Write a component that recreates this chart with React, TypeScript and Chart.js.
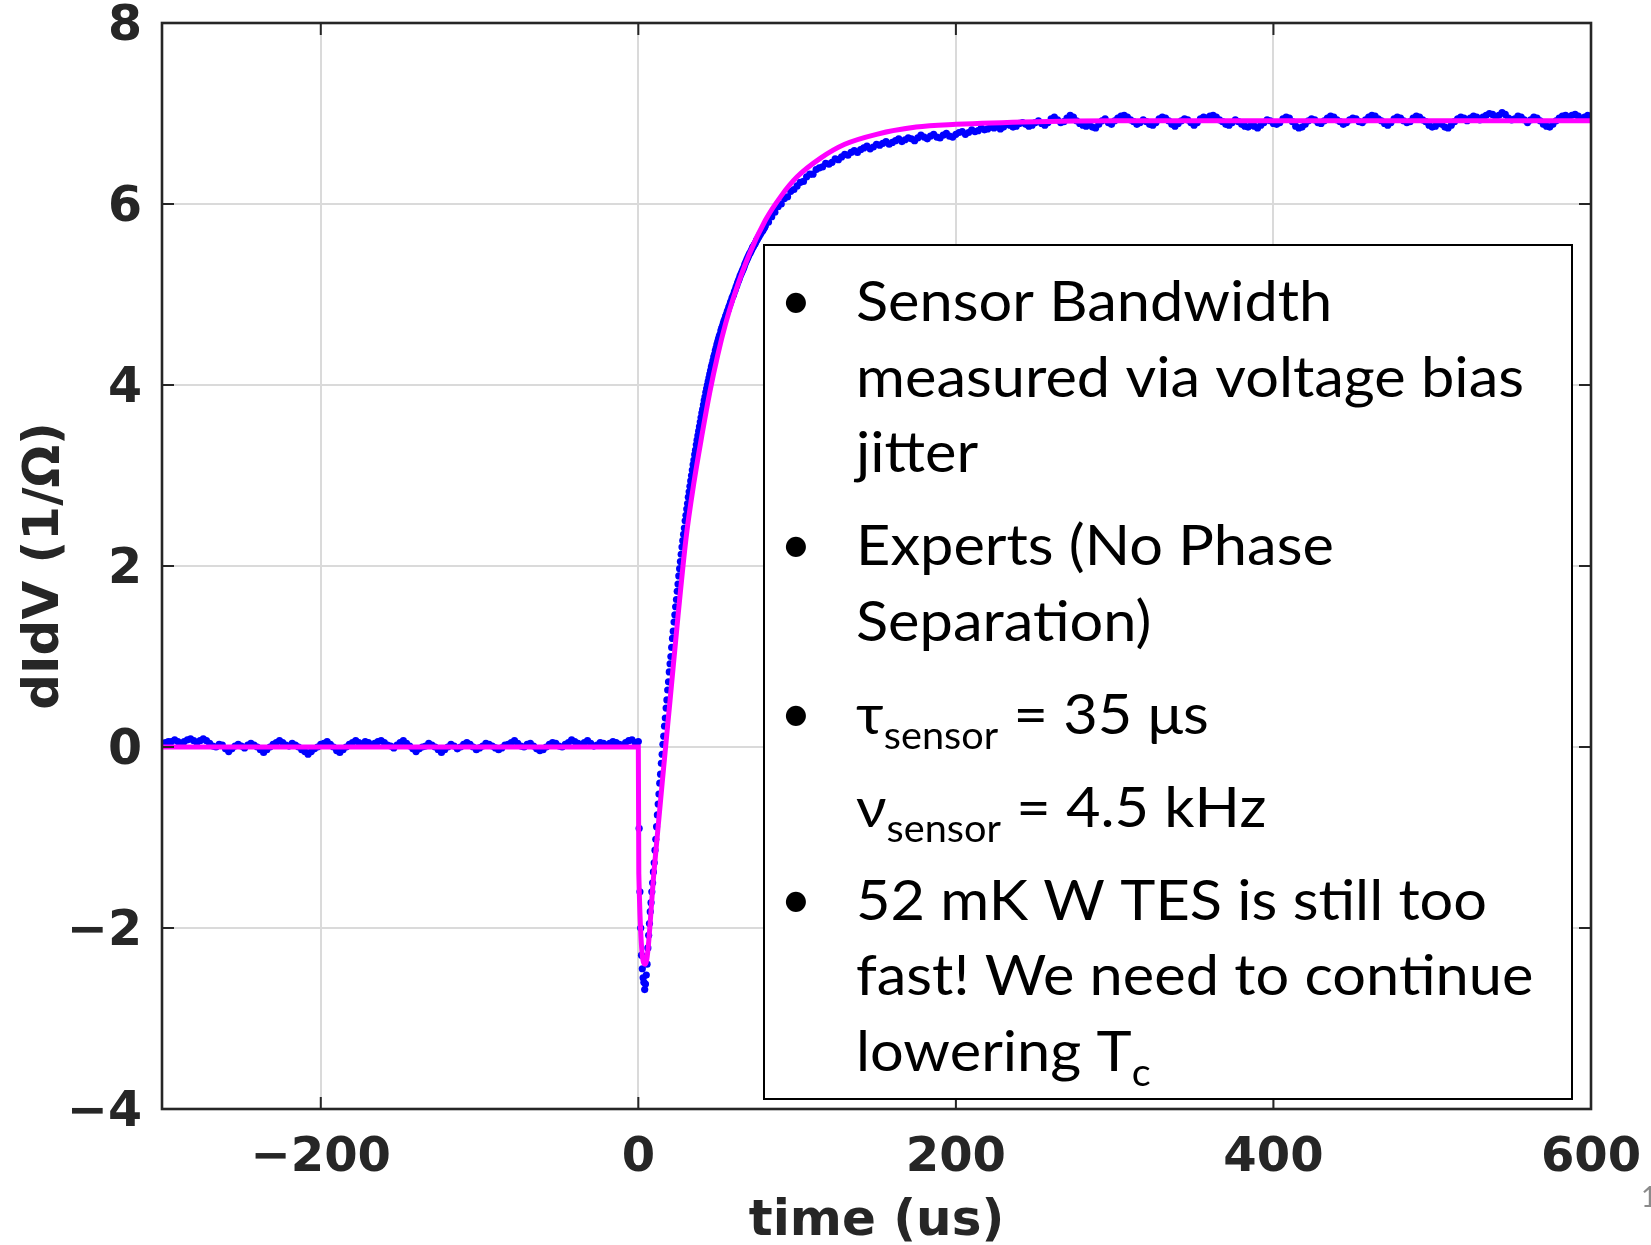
import React, { useEffect, useRef } from "react";
import { Chart, registerables } from "chart.js";

Chart.register(...registerables);

// Axis ticks
const X_TICKS = [-200, 0, 200, 400, 600];
const Y_TICKS = [-4, -2, 0, 2, 4, 6, 8];

// Measured dIdV trace (1/Ω), sampled in three windows
const PRE_T0 = -300;
const PRE_DT = 2;
const PRE_V = [
  0.03, 0.05, 0.06, 0.06, 0.08, 0.06, 0.04, 0.06, 0.08, 0.09,
  0.07, 0.05, 0.07, 0.09, 0.07, 0.04, 0.01, 0.0, 0.03, 0.02,
  -0.02, -0.05, -0.02, 0.01, 0.03, 0.01, -0.01, 0.02, 0.04, 0.02,
  0.0, -0.03, -0.06, -0.03, 0.0, 0.03, 0.05, 0.07, 0.05, 0.02,
  0.01, 0.04, 0.02, 0.0, -0.03, -0.05, -0.08, -0.05, -0.02, 0.0,
  0.03, 0.04, 0.06, 0.03, 0.0, -0.04, -0.06, -0.03, 0.0, 0.03,
  0.05, 0.07, 0.05, 0.03, 0.06, 0.05, 0.02, 0.04, 0.06, 0.07,
  0.05, 0.02, 0.01, -0.01, 0.02, 0.05, 0.07, 0.04, 0.01, -0.02,
  -0.05, -0.02, 0.0, 0.01, 0.04, 0.02, 0.0, -0.03, -0.06, -0.03,
  0.0, 0.03, 0.01, -0.02, 0.0, 0.03, 0.05, 0.03, 0.0, -0.03,
  -0.01, 0.01, 0.04, 0.03, 0.01, -0.01, -0.03, -0.01, 0.02, 0.03,
  0.05, 0.07, 0.04, 0.01, 0.0, 0.03, 0.04, 0.01, -0.02, -0.04,
  -0.03, 0.0, 0.03, 0.05, 0.04, 0.01, 0.0, 0.03, 0.05, 0.08,
  0.06, 0.04, 0.02, 0.05, 0.07, 0.04, 0.01, 0.02, 0.05, 0.04,
  0.02, 0.04, 0.06, 0.05, 0.03, 0.02, 0.05, 0.07, 0.08, 0.05,
  0.06,
];

const RISE_T0 = 0.5;
const RISE_DT = 0.5;
const RISE_V = [
  -0.9, -1.6, -2.0, -2.3, -2.45, -2.55, -2.6, -2.68, -2.62, -2.52,
  -2.4, -2.22, -2.08, -1.95, -1.82, -1.72, -1.6, -1.5, -1.38, -1.28,
  -1.14, -1.02, -0.88, -0.75, -0.63, -0.52, -0.4, -0.3, -0.18, -0.08,
  0.03, 0.12, 0.23, 0.32, 0.43, 0.52, 0.63, 0.72, 0.83, 0.92,
  1.0, 1.1, 1.2, 1.28, 1.38, 1.46, 1.55, 1.63, 1.72, 1.8,
  1.89, 1.97, 2.05, 2.13, 2.21, 2.28, 2.35, 2.42, 2.5, 2.56,
  2.63, 2.69, 2.76, 2.82, 2.88, 2.94, 3.0, 3.06, 3.12, 3.17,
  3.23, 3.28, 3.34, 3.39, 3.44, 3.49, 3.54, 3.59, 3.64, 3.69,
  3.73, 3.78, 3.83, 3.87, 3.92, 3.96, 4.0, 4.04, 4.08, 4.12,
  4.16, 4.2, 4.23, 4.27, 4.31, 4.34, 4.38, 4.41, 4.45, 4.48,
  4.51, 4.54, 4.56, 4.6, 4.63, 4.65, 4.68, 4.71, 4.73, 4.76,
  4.78, 4.81, 4.83, 4.86, 4.88, 4.91, 4.93, 4.96, 4.98, 5.0,
  5.03, 5.05, 5.08, 5.1, 5.13, 5.15, 5.17, 5.2, 5.22, 5.24,
  5.26, 5.28, 5.3, 5.33, 5.35, 5.37, 5.39, 5.41, 5.43, 5.45,
  5.46, 5.48, 5.5, 5.52, 5.53, 5.55, 5.56, 5.58, 5.6, 5.61,
  5.63, 5.64, 5.66, 5.67, 5.69, 5.7, 5.71, 5.73, 5.74, 5.76,
];

const POST_T0 = 82;
const POST_DT = 2;
const POST_V = [
  5.8, 5.86, 5.91, 5.97, 6.0, 6.06, 6.08, 6.14, 6.16, 6.2,
  6.24, 6.25, 6.3, 6.33, 6.33, 6.38, 6.4, 6.41, 6.45, 6.44,
  6.46, 6.5, 6.49, 6.52, 6.55, 6.54, 6.57, 6.59, 6.57, 6.6,
  6.62, 6.64, 6.61, 6.63, 6.66, 6.65, 6.67, 6.69, 6.66, 6.68,
  6.7, 6.72, 6.69, 6.71, 6.73, 6.72, 6.7, 6.73, 6.76, 6.74,
  6.72, 6.75, 6.77, 6.74, 6.73, 6.76, 6.78, 6.75, 6.74, 6.77,
  6.79, 6.8, 6.77, 6.79, 6.82, 6.8, 6.81, 6.84, 6.82, 6.83,
  6.85, 6.84, 6.86, 6.83, 6.85, 6.88, 6.87, 6.85, 6.86, 6.89,
  6.9, 6.88, 6.86, 6.87, 6.9, 6.92, 6.89, 6.87, 6.9, 6.94,
  6.96, 6.93, 6.9, 6.91, 6.95, 6.98, 6.96, 6.92, 6.89, 6.87,
  6.86, 6.88, 6.85, 6.84, 6.88, 6.92, 6.94, 6.9, 6.88, 6.92,
  6.95, 6.97, 6.98, 6.96, 6.93, 6.91, 6.88, 6.9, 6.93, 6.91,
  6.88, 6.87, 6.9, 6.94, 6.96, 6.95, 6.92, 6.88, 6.86, 6.89,
  6.92, 6.94, 6.93, 6.9, 6.87, 6.9, 6.94, 6.96, 6.95, 6.97,
  6.98, 6.96, 6.93, 6.91, 6.88, 6.87, 6.9, 6.93, 6.91, 6.88,
  6.86, 6.85, 6.87, 6.86, 6.84, 6.87, 6.9, 6.93, 6.92, 6.89,
  6.88, 6.9, 6.94, 6.96, 6.95, 6.91, 6.86, 6.84, 6.85, 6.88,
  6.92, 6.94, 6.93, 6.9, 6.89, 6.92, 6.95, 6.97, 6.96, 6.93,
  6.91, 6.88, 6.9, 6.93, 6.95, 6.94, 6.91, 6.9, 6.93, 6.96,
  6.98, 6.97, 6.94, 6.92, 6.89, 6.87, 6.9, 6.94, 6.96, 6.95,
  6.92, 6.9, 6.91, 6.95, 6.97, 6.96, 6.93, 6.91, 6.87, 6.85,
  6.86, 6.89, 6.88, 6.85, 6.84, 6.87, 6.91, 6.94, 6.96, 6.95,
  6.92, 6.95, 6.97, 6.96, 6.93, 6.96, 6.98, 7.0, 6.99, 6.96,
  6.98, 7.01, 6.99, 6.95, 6.93, 6.94, 6.97, 6.96, 6.93, 6.9,
  6.93, 6.96, 6.95, 6.92, 6.88, 6.86, 6.85, 6.88, 6.92, 6.95,
  6.97, 6.98, 6.96, 6.98, 6.99, 6.97, 6.94, 6.96, 6.98, 6.95,
];

// Fitted response (magenta)
const FIT_T = [-300, 0, 0.3, 4.4, 10, 15, 20, 25, 30, 35, 40, 45, 50, 55, 60, 70, 80, 90, 100, 115, 130, 150, 175, 200, 250, 300, 600];
const FIT_V = [0, 0, -1.4, -2.4, -1.35, -0.4, 0.52, 1.45, 2.3, 2.92, 3.44, 3.92, 4.33, 4.68, 4.97, 5.45, 5.82, 6.09, 6.3, 6.51, 6.66, 6.77, 6.85, 6.88, 6.91, 6.92, 6.92];

// Annotation text: [text, isSubscript]
type Seg = [string, boolean];
const NOTE_PARAS: { bullet: boolean; lines: Seg[][] }[] = [
  { bullet: true, lines: [[["Sensor Bandwidth", false]], [["measured via voltage bias", false]], [["jitter", false]]] },
  { bullet: true, lines: [[["Experts (No Phase", false]], [["Separation)", false]]] },
  { bullet: true, lines: [[["τ", false], ["sensor", true], [" = 35 μs", false]]] },
  { bullet: false, lines: [[["ν", false], ["sensor", true], [" = 4.5 kHz", false]]] },
  {
    bullet: true,
    lines: [
      [["52 mK W TES is still too", false]],
      [["fast! We need to continue", false]],
      [["lowering T", false], ["c", true]],
    ],
  },
];
const PAGE_NUMBER = "1";

const W = 1651;
const H = 1245;
const AXIS_COLOR = "#262626";
const GRID_COLOR = "#dadada";
const BLUE = "#0000ff";
const MAGENTA = "#ff00ff";
const TICK_FONT = "'DejaVu Sans', sans-serif";
const NOTE_FONT = "Lato, 'Noto Sans', sans-serif";

const fmt = (v: number) => (v < 0 ? "\u2212" + Math.abs(v) : String(v));

function sampled(t0: number, dt: number, vals: number[]) {
  return vals.map((y, i) => ({ x: t0 + i * dt, y }));
}

function noScalePadding(s: any) {
  s.paddingTop = 0;
  s.paddingBottom = 0;
  s.paddingLeft = 0;
  s.paddingRight = 0;
}

const framePlugin = {
  id: "frameAndNote",
  afterDatasetsDraw(chart: any) {
    const { ctx, chartArea: a, scales } = chart;
    ctx.save();
    ctx.strokeStyle = AXIS_COLOR;
    ctx.lineWidth = 2;
    const tl = 12;
    ctx.beginPath();
    for (const v of X_TICKS) {
      const x = scales.x.getPixelForValue(v);
      ctx.moveTo(x, a.bottom);
      ctx.lineTo(x, a.bottom - tl);
      ctx.moveTo(x, a.top);
      ctx.lineTo(x, a.top + tl);
    }
    for (const v of Y_TICKS) {
      const y = scales.y.getPixelForValue(v);
      ctx.moveTo(a.left, y);
      ctx.lineTo(a.left + tl, y);
      ctx.moveTo(a.right, y);
      ctx.lineTo(a.right - tl, y);
    }
    ctx.stroke();
    ctx.lineWidth = 2.6;
    ctx.strokeRect(a.left, a.top, a.right - a.left, a.bottom - a.top);
    ctx.restore();
  },
  afterDraw(chart: any) {
    const { ctx } = chart;
    ctx.save();
    // annotation box
    const bx = 764, by = 245, bw = 1572 - 764, bh = 1099 - 245;
    ctx.fillStyle = "#ffffff";
    ctx.fillRect(bx, by, bw, bh);
    ctx.strokeStyle = "#000000";
    ctx.lineWidth = 2;
    ctx.strokeRect(bx, by, bw, bh);

    const mainSize = 57;
    const subSize = 38;
    const mainFont = `${mainSize}px ${NOTE_FONT}`;
    const subFont = `${subSize}px ${NOTE_FONT}`;
    ctx.font = mainFont;
    const sx = 668 / ctx.measureText("measured via voltage bias").width;

    ctx.fillStyle = "#000000";
    ctx.textBaseline = "alphabetic";
    let y = 321;
    NOTE_PARAS.forEach((p, pi) => {
      if (pi > 0) y += 93;
      p.lines.forEach((line, li) => {
        if (li > 0) y += 75.5;
        if (p.bullet && li === 0) {
          ctx.font = `54px ${NOTE_FONT}`;
          ctx.textAlign = "center";
          ctx.fillText("\u2022", 796, y - 2);
        }
        ctx.textAlign = "left";
        let x = 856;
        for (const [text, sub] of line) {
          ctx.font = sub ? subFont : mainFont;
          const w = ctx.measureText(text).width * sx;
          ctx.save();
          ctx.translate(x, y + (sub ? 15 : 0));
          ctx.scale(sx, 1);
          ctx.fillText(text, 0, 0);
          ctx.restore();
          x += w;
        }
      });
    });

    // slide page number
    ctx.font = `28px ${NOTE_FONT}`;
    ctx.fillStyle = "#8a8a8a";
    ctx.textAlign = "left";
    ctx.fillText(PAGE_NUMBER, 1641, 1207);
    ctx.restore();
  },
};

export default function App() {
  const ref = useRef<HTMLCanvasElement>(null);

  useEffect(() => {
    const canvas = ref.current;
    if (!canvas) return;

    const measured = [
      ...sampled(PRE_T0, PRE_DT, PRE_V),
      ...sampled(RISE_T0, RISE_DT, RISE_V),
      ...sampled(POST_T0, POST_DT, POST_V),
    ];
    const fit = FIT_T.map((x, i) => ({ x, y: FIT_V[i] }));

    const chart = new Chart(canvas, {
      type: "scatter",
      data: {
        datasets: [
          {
            label: "fit",
            data: fit,
            showLine: true,
            borderColor: MAGENTA,
            backgroundColor: MAGENTA,
            borderWidth: 5,
            pointRadius: 0,
            cubicInterpolationMode: "monotone",
          } as any,
          {
            label: "data",
            data: measured,
            showLine: false,
            pointRadius: 3.6,
            pointBorderWidth: 0,
            pointBackgroundColor: BLUE,
            pointBorderColor: BLUE,
          },
        ],
      },
      options: {
        responsive: false,
        animation: false,
        devicePixelRatio: 1,
        events: [],
        layout: { padding: { left: 0, right: 60, top: 23, bottom: 0 } },
        plugins: { legend: { display: false }, tooltip: { enabled: false } },
        scales: {
          x: {
            type: "linear",
            min: -300,
            max: 600,
            afterBuildTicks: (s: any) => {
              s.ticks = X_TICKS.map((value) => ({ value }));
            },
            afterFit: (s: any) => {
              s.height = 136;
              noScalePadding(s);
            },
            border: { display: false },
            grid: {
              drawTicks: false,
              lineWidth: 2,
              color: (c: any) => (c.tick && c.tick.value === 600 ? "rgba(0,0,0,0)" : GRID_COLOR),
            },
            ticks: {
              autoSkip: false,
              maxRotation: 0,
              padding: 30,
              color: AXIS_COLOR,
              font: { family: TICK_FONT, weight: "bold", size: 48, lineHeight: 0.8 },
              callback: (v: any) => fmt(Number(v)),
            },
            title: {
              display: true,
              text: "time (us)",
              color: AXIS_COLOR,
              font: { family: TICK_FONT, weight: "bold", size: 50, lineHeight: 0.92 },
              padding: { top: 0, bottom: 0 },
            },
          },
          y: {
            type: "linear",
            min: -4,
            max: 8,
            afterBuildTicks: (s: any) => {
              s.ticks = Y_TICKS.map((value) => ({ value }));
            },
            afterFit: (s: any) => {
              s.width = 162;
              noScalePadding(s);
            },
            border: { display: false },
            grid: {
              drawTicks: false,
              lineWidth: 2,
              color: (c: any) =>
                c.tick && (c.tick.value === -4 || c.tick.value === 8) ? "rgba(0,0,0,0)" : GRID_COLOR,
            },
            ticks: {
              padding: 20,
              labelOffset: 4,
              color: AXIS_COLOR,
              font: { family: TICK_FONT, weight: "bold", size: 49, lineHeight: 0.8 },
              callback: (v: any) => fmt(Number(v)),
            },
            title: {
              display: true,
              text: "dIdV (1/Ω)",
              color: AXIS_COLOR,
              font: { family: TICK_FONT, weight: "bold", size: 50, lineHeight: 1 },
              padding: { top: 20, bottom: 0 },
            },
          },
        },
      },
      plugins: [framePlugin],
    } as any);

    return () => chart.destroy();
  }, []);

  return (
    <div style={{ position: "absolute", left: 0, top: 0, width: W, height: H, background: "#ffffff" }}>
      <canvas ref={ref} width={W} height={H} style={{ display: "block", width: W, height: H }} />
    </div>
  );
}
